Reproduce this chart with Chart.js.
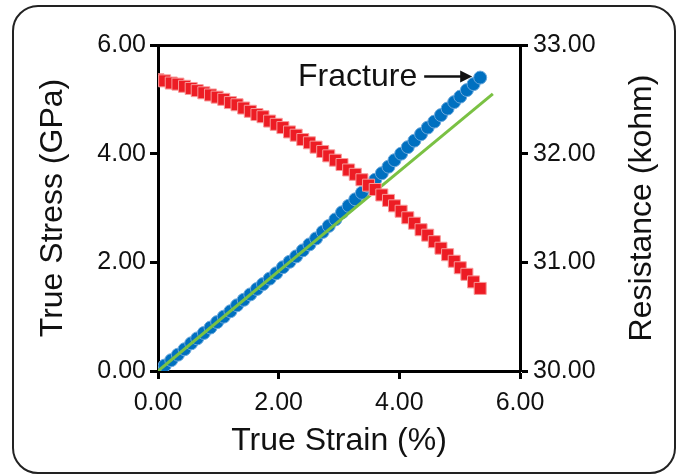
<!DOCTYPE html>
<html>
<head>
<meta charset="utf-8">
<script src="https://cdn.jsdelivr.net/npm/chart.js@4"></script>
<style>
  body { margin: 0; background: #fff; }
  #wrap { position: relative; width: 680px; height: 476px; }
  #frame {
    position: absolute; left: 12px; top: 5px; width: 664px; height: 469px;
    box-sizing: border-box; border: 2px solid #222; border-radius: 26px;
    pointer-events: none;
  }
</style>
</head>
<body>
<div id="wrap">
  <canvas id="chart" width="680" height="476"></canvas>
  <div id="frame"></div>
</div>
<script>
// strain (%) shared by both measured series
const strain = [0, 0.11, 0.22, 0.33, 0.44, 0.55, 0.65, 0.76, 0.87, 0.98,
    1.09, 1.20, 1.31, 1.42, 1.53, 1.64, 1.74, 1.85, 1.96, 2.07,
    2.18, 2.29, 2.40, 2.51, 2.62, 2.73, 2.83, 2.94, 3.05, 3.16,
    3.27, 3.38, 3.49, 3.60, 3.71, 3.82, 3.92, 4.03, 4.14, 4.25,
    4.36, 4.47, 4.58, 4.69, 4.80, 4.91, 5.01, 5.12, 5.23, 5.34];

// true stress (GPa), blue circles
const stress = [0, 0.10, 0.20, 0.30, 0.40, 0.51, 0.60, 0.70, 0.80, 0.90,
    1.00, 1.10, 1.21, 1.31, 1.41, 1.51, 1.60, 1.70, 1.80, 1.91,
    2.01, 2.11, 2.22, 2.33, 2.44, 2.56, 2.67, 2.79, 2.92, 3.04,
    3.16, 3.28, 3.40, 3.52, 3.64, 3.76, 3.88, 4.00, 4.12, 4.24,
    4.36, 4.48, 4.59, 4.71, 4.83, 4.95, 5.05, 5.17, 5.28, 5.40];

// resistance (kohm), red squares
const resistance = [32.68, 32.67, 32.65, 32.64, 32.62, 32.60, 32.58, 32.56, 32.54, 32.52,
    32.50, 32.47, 32.45, 32.42, 32.39, 32.36, 32.34, 32.30, 32.27, 32.24,
    32.20, 32.17, 32.13, 32.10, 32.06, 32.02, 31.98, 31.94, 31.90, 31.85,
    31.81, 31.76, 31.71, 31.67, 31.62, 31.57, 31.52, 31.47, 31.41, 31.36,
    31.30, 31.25, 31.19, 31.13, 31.07, 31.01, 30.95, 30.89, 30.82, 30.76];

// linear fit (green line)
const fitStrain = [0, 5.55];
const fitStress = [0, 5.10];

const xTicks = [0, 2, 4, 6];
const yTicks = [0, 2, 4, 6];
const rTicks = [30, 31, 32, 33];

const tickFont = { family: 'Liberation Sans, Arial, sans-serif', size: 25 };
const titleFont = { family: 'Liberation Sans, Arial, sans-serif', size: 32 };

// right title reads bottom-to-top, plus the "Fracture" arrow
const extras = {
    id: 'extras',
    afterDraw(chart) {
        const { ctx, scales } = chart;
        ctx.save();
        ctx.fillStyle = '#111';
        ctx.font = '32px Liberation Sans, Arial, sans-serif';
        ctx.textAlign = 'center';
        ctx.textBaseline = 'middle';
        ctx.translate(642, (chart.chartArea.top + chart.chartArea.bottom) / 2);
        ctx.rotate(-Math.PI / 2);
        ctx.fillText('Resistance (kohm)', 0, 0);
        ctx.restore();

        const last = strain.length - 1;
        const px = scales.x.getPixelForValue(strain[last]);
        const py = scales.y.getPixelForValue(stress[last]);
        ctx.save();
        ctx.fillStyle = '#111';
        ctx.strokeStyle = '#111';
        ctx.font = '32px Liberation Sans, Arial, sans-serif';
        ctx.textAlign = 'right';
        ctx.textBaseline = 'middle';
        ctx.fillText('Fracture', px - 63, py);
        ctx.lineWidth = 2.5;
        ctx.beginPath();
        ctx.moveTo(px - 56, py - 1);
        ctx.lineTo(px - 18, py - 1);
        ctx.stroke();
        ctx.beginPath();
        ctx.moveTo(px - 8, py - 1);
        ctx.lineTo(px - 20, py - 7);
        ctx.lineTo(px - 20, py + 5);
        ctx.closePath();
        ctx.fill();
        ctx.restore();
    }
};

const ctx = document.getElementById('chart').getContext('2d');

new Chart(ctx, {
    type: 'scatter',
    data: {
        datasets: [{
            label: 'Resistance',
            data: strain.map((s, i) => ({ x: s, y: resistance[i] })),
            yAxisID: 'y2',
            pointStyle: 'rect',
            pointRadius: 8.5,
            backgroundColor: '#ed1c24',
            borderColor: '#f79a9a',
            borderWidth: 1,
            order: 0
        }, {
            label: 'Fit',
            data: fitStrain.map((s, i) => ({ x: s, y: fitStress[i] })),
            yAxisID: 'y',
            showLine: true,
            pointRadius: 0,
            borderColor: '#7ac143',
            borderWidth: 3,
            order: 1
        }, {
            label: 'Stress',
            data: strain.map((s, i) => ({ x: s, y: stress[i] })),
            yAxisID: 'y',
            pointStyle: 'circle',
            pointRadius: 6.5,
            backgroundColor: '#0070c0',
            borderColor: '#6aa8dc',
            borderWidth: 1,
            order: 2
        }]
    },
    options: {
        responsive: false,
        animation: false,
        devicePixelRatio: 1,
        layout: { padding: 0 },
        plugins: {
            legend: { display: false },
            tooltip: { enabled: false }
        },
        scales: {
            x: {
                type: 'linear',
                position: 'bottom',
                min: 0,
                max: 6,
                afterBuildTicks: axis => { axis.ticks = xTicks.map(v => ({ value: v })); },
                afterFit: axis => { axis.height = 105; },
                ticks: {
                    callback: v => v.toFixed(2),
                    font: tickFont,
                    color: '#111',
                    padding: 9,
                    maxRotation: 0
                },
                grid: { drawOnChartArea: false, tickLength: 8, tickWidth: 3, tickColor: '#000' },
                border: { color: '#000', width: 3 },
                title: {
                    display: true,
                    text: 'True Strain (%)',
                    font: titleFont,
                    color: '#111',
                    padding: { top: 0, bottom: 16 }
                }
            },
            xTop: {
                type: 'linear',
                position: 'top',
                min: 0,
                max: 6,
                afterFit: axis => { axis.height = 45; },
                ticks: { display: false },
                grid: { display: false },
                border: { color: '#000', width: 3 }
            },
            y: {
                type: 'linear',
                position: 'left',
                min: 0,
                max: 6,
                afterBuildTicks: axis => { axis.ticks = yTicks.map(v => ({ value: v })); },
                afterFit: axis => { axis.width = 158; },
                ticks: {
                    callback: v => v.toFixed(2),
                    font: tickFont,
                    color: '#111',
                    padding: 4
                },
                grid: { drawOnChartArea: false, tickLength: 8, tickWidth: 3, tickColor: '#000' },
                border: { color: '#000', width: 3 },
                title: {
                    display: true,
                    text: 'True Stress (GPa)',
                    font: titleFont,
                    color: '#111',
                    padding: { top: 34, bottom: 0 }
                }
            },
            y2: {
                type: 'linear',
                position: 'right',
                min: 30,
                max: 33,
                afterBuildTicks: axis => { axis.ticks = rTicks.map(v => ({ value: v })); },
                afterFit: axis => { axis.width = 160; },
                ticks: {
                    callback: v => v.toFixed(2),
                    font: tickFont,
                    color: '#111',
                    padding: 5
                },
                grid: { drawOnChartArea: false, tickLength: 8, tickWidth: 3, tickColor: '#000' },
                border: { color: '#000', width: 3 }
            }
        }
    },
    plugins: [extras]
});
</script>
</body>
</html>
